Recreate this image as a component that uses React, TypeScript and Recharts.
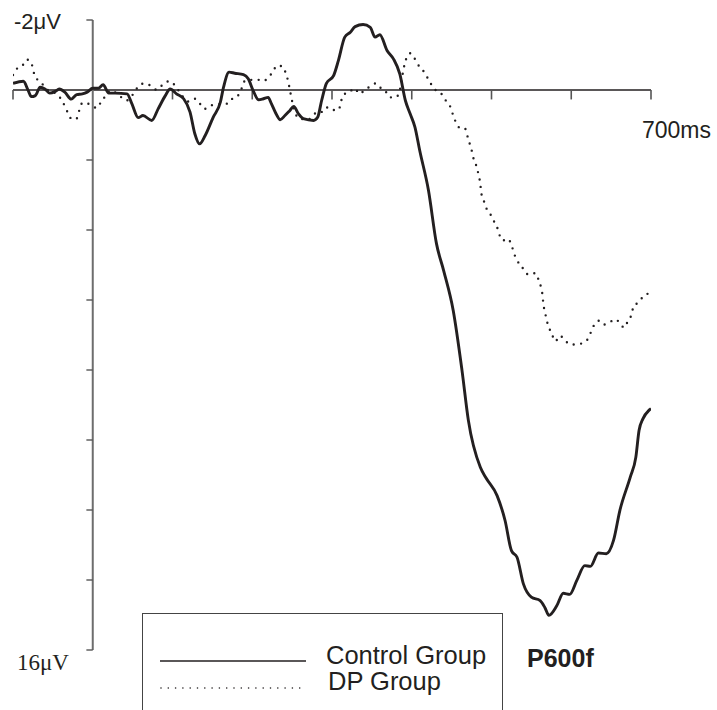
import { LineChart, Line, XAxis, YAxis, ReferenceLine, Legend } from "recharts";

// time (ms) and amplitude (uV), negative is up
const controlTimes = [
  -100, -87, -81, -77, -72, -66, -60, -54, -47, -42, -35, -27, -20, -13, -7, 0, 7, 13, 20, 28,
  43, 49, 57, 63, 74, 82, 91, 97, 105, 114, 122, 128, 134, 141, 151, 160, 164, 171, 178, 189,
  195, 201, 208, 214, 220, 224, 231, 235, 241, 247, 252, 258, 264, 277, 282, 287, 293, 302, 308, 316,
  323, 329, 339, 348, 354, 360, 369, 377, 385, 392, 398, 404, 410, 421, 431, 440, 452, 463, 471, 486,
  493, 507, 517, 525, 532, 540, 550, 561, 567, 572, 582, 590, 598, 607, 617, 624, 634, 644, 653, 661,
  674, 681, 685, 690, 698, 700,
];
const controlValues = [
  -0.19, -0.25, 0.01, 0.19, 0.16, -0.08, -0.03, 0.09, 0.04, -0.03, 0.06, 0.26, 0.13, 0.11, 0.06, -0.05, -0.05, -0.15, 0.09, 0.09,
  0.11, 0.39, 0.79, 0.73, 0.87, 0.54, 0.16, -0.03, 0.11, 0.25, 0.63, 1.25, 1.54, 1.3, 0.78, 0.35, -0.08, -0.51, -0.48, -0.44,
  -0.32, 0.01, 0.28, 0.25, 0.21, 0.39, 0.73, 0.85, 0.73, 0.59, 0.47, 0.68, 0.82, 0.87, 0.78, 0.3, -0.19, -0.41, -0.84, -1.51,
  -1.65, -1.81, -1.87, -1.79, -1.51, -1.58, -1.13, -0.89, -0.46, 0.3, 0.68, 1.06, 1.73, 2.87, 4.39, 5.16, 6.3, 8.01, 9.44, 10.78,
  11.08, 11.59, 12.3, 13.16, 13.35, 14.11, 14.49, 14.59, 14.79, 15.01, 14.73, 14.38, 14.41, 14.01, 13.59, 13.61, 13.23, 13.25, 12.87, 12.01,
  11.06, 10.49, 9.73, 9.39, 9.14, 9.1,
];

const dpTimes = [
  -100, -95, -88, -83, -77, -75, -71, -65, -58, -46, -40, -35, -31, -26, -20, -17, -13, -8, -1, 6,
  11, 17, 22, 36, 42, 53, 58, 65, 72, 80, 91, 97, 103, 112, 120, 128, 134, 140, 148, 155,
  163, 170, 176, 183, 187, 191, 199, 206, 213, 220, 226, 231, 238, 242, 245, 247, 249, 254, 259, 270,
  283, 289, 295, 302, 308, 314, 322, 328, 335, 341, 348, 355, 361, 367, 372, 380, 385, 387, 389, 393,
  398, 403, 408, 414, 423, 428, 433, 439, 444, 449, 452, 456, 462, 467, 470, 473, 476, 478, 482, 484,
  486, 487, 490, 493, 498, 502, 507, 510, 514, 520, 525, 528, 532, 538, 542, 548, 555, 559, 562, 564,
  565, 567, 569, 572, 576, 580, 586, 592, 599, 606, 613, 621, 625, 629, 635, 641, 649, 656, 662, 667,
  671, 676, 678, 685, 690, 697, 700,
];
const dpValues = [
  -0.43, -0.61, -0.7, -0.87, -0.79, -0.58, -0.35, -0.22, -0.03, 0.11, 0.25, 0.46, 0.66, 0.84, 0.81, 0.59, 0.37, 0.37, 0.47, 0.51,
  0.3, 0.16, 0.01, 0.21, 0.3, 0.04, -0.13, -0.19, -0.13, -0.01, -0.22, -0.25, -0.13, 0.16, 0.33, 0.25, 0.38, 0.54, 0.44, 0.42,
  0.39, 0.39, 0.22, 0.14, -0.06, -0.27, -0.29, -0.3, -0.25, -0.35, -0.53, -0.7, -0.67, -0.48, -0.25, -0.03, 0.21, 0.66, 0.81, 0.84,
  0.61, 0.63, 0.49, 0.57, 0.57, 0.14, 0.06, -0.05, 0.11, -0.01, -0.1, -0.19, -0.06, 0.03, 0.21, 0.21, 0.01, -0.22, -0.51, -0.89,
  -1.05, -0.92, -0.72, -0.56, -0.22, -0.03, 0.03, 0.16, 0.35, 0.51, 0.73, 0.95, 1.11, 1.11, 1.33, 1.56, 1.8, 2.01, 2.23, 2.46,
  2.68, 2.92, 3.14, 3.35, 3.52, 3.71, 3.92, 4.14, 4.3, 4.25, 4.42, 4.65, 4.87, 5.04, 5.21, 5.28, 5.23, 5.42, 5.63, 5.87,
  6.11, 6.33, 6.56, 6.78, 6.99, 7.18, 7.02, 7.15, 7.27, 7.27, 7.24, 7.11, 6.9, 6.7, 6.59, 6.7, 6.62, 6.55, 6.71, 6.79,
  6.59, 6.39, 6.17, 6.06, 5.9, 5.81, 5.78,
];

const seriesNames = ["Control Group", "DP Group"];
const xTicks = [-100, 100, 200, 300, 400, 500, 600, 700];
const yTicks = [-2, 2, 4, 6, 8, 10, 12, 14, 16];

const controlData = controlTimes.map((t, i) => ({ t, v: controlValues[i] }));
const dpData = dpTimes.map((t, i) => ({ t, v: dpValues[i] }));

const INK = "#231f20";
const SANS = "'Liberation Sans', Arial, sans-serif";
const DOTS = "0 7.5";

const renderLegend = () => (
  <div
    style={{
      width: 361,
      height: 110,
      border: "1.3px solid #444",
      boxSizing: "border-box",
      background: "#fff",
    }}
  >
    <svg width={359} height={108}>
      <line x1={17} x2={163} y1={47} y2={47} stroke={INK} strokeWidth={1.6} />
      <line
        x1={18}
        x2={163}
        y1={74}
        y2={74}
        stroke={INK}
        strokeWidth={1.6}
        strokeDasharray="0 7.3"
        strokeLinecap="round"
      />
      <text x={183} y={50} fontFamily={SANS} fontSize={25.5} fill={INK}>
        {seriesNames[0]}
      </text>
      <text x={185} y={76} fontFamily={SANS} fontSize={25.5} fill={INK}>
        {seriesNames[1]}
      </text>
    </svg>
  </div>
);

export default function App() {
  return (
    <div
      style={{
        position: "absolute",
        left: 0,
        top: 0,
        width: 717,
        height: 710,
        overflow: "hidden",
        background: "#fff",
      }}
    >
      <LineChart width={717} height={710} margin={{ top: 20, right: 66, bottom: 60, left: 13 }}>
        <XAxis dataKey="t" type="number" domain={[-100, 700]} hide allowDataOverflow />
        <YAxis type="number" domain={[-2, 16]} reversed hide allowDataOverflow />

        {/* axes drawn through zero */}
        <ReferenceLine y={0} stroke={INK} strokeWidth={1.4} ifOverflow="visible" />
        <ReferenceLine x={0} stroke="#6d6d6d" strokeWidth={2} ifOverflow="visible" />
        {xTicks.map((t) => (
          <ReferenceLine
            key={"xt" + t}
            segment={[
              { x: t, y: 0 },
              { x: t, y: 0.27 },
            ]}
            stroke="#555"
            strokeWidth={1.6}
            ifOverflow="visible"
          />
        ))}
        {yTicks.map((v) => (
          <ReferenceLine
            key={"yt" + v}
            segment={[
              { x: -8, y: v },
              { x: 0, y: v },
            ]}
            stroke="#555"
            strokeWidth={1.4}
            ifOverflow="visible"
          />
        ))}

        <Line
          data={dpData}
          dataKey="v"
          name={seriesNames[1]}
          type="monotone"
          stroke={INK}
          strokeWidth={2.4}
          strokeDasharray={DOTS}
          strokeLinecap="round"
          dot={false}
          isAnimationActive={false}
        />
        <Line
          data={controlData}
          dataKey="v"
          name={seriesNames[0]}
          type="monotone"
          stroke={INK}
          strokeWidth={2.9}
          dot={false}
          isAnimationActive={false}
        />

        <Legend
          verticalAlign="middle"
          layout="horizontal"
          content={renderLegend}
          wrapperStyle={{ position: "absolute", left: 142, top: 613, width: 361 }}
        />
      </LineChart>

      <svg
        width={717}
        height={710}
        style={{ position: "absolute", left: 0, top: 0, pointerEvents: "none" }}
      >
        <text x={14} y={29} fontFamily={SANS} fontSize={22} fill={INK}>
          -2μV
        </text>
        <text x={17} y={670} fontFamily="'Liberation Serif', 'Times New Roman', serif" fontSize={23} fill={INK}>
          16μV
        </text>
        <text x={642} y={138} fontFamily={SANS} fontSize={23} fill={INK}>
          700ms
        </text>
        <text x={527} y={667} fontFamily={SANS} fontSize={25} fontWeight="bold" fill={INK}>
          P600f
        </text>
      </svg>
    </div>
  );
}
